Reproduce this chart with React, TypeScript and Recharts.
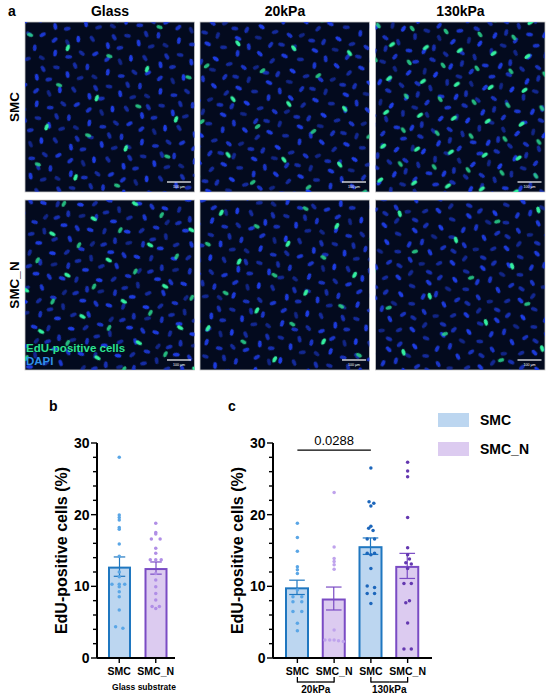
import React from 'react';
import { ComposedChart, Bar, Scatter, XAxis, YAxis, ReferenceLine, Label } from 'recharts';

const FONT = "'Liberation Sans', Arial, Helvetica, sans-serif";

// ---- panel a (micrographs) ----
const columnTitles = ['Glass', '20kPa', '130kPa'];
const rowTitles = ['SMC', 'SMC_N'];

// ---- panel b : glass substrate ----
const glassKeys = ['SMC', 'SMC_N'];
const glassMeans = [12.75, 12.55];
const glassSem = [1.35, 0.85];
const glassSmc = [28.0, 19.95, 19.6, 19.25, 18.2, 17.95, 15.9, 14.2, 12.0, 11.35, 10.3, 10.3, 10.3, 9.95, 9.25, 8.55, 6.7, 4.37, 4.14];
const glassSmcJitter = [0, 0, 0, 0, 0, 0, 0, 0, 0, 0, -0.2, 0, 0.15, 0, 0, 0, 0, -0.1, 0.1];
const glassSmcN = [18.8, 17.5, 17.3, 16.6, 16.6, 15.3, 14.6, 13.7, 13.7, 13.7, 11.8, 10.9, 9.95, 9.0, 8.1, 7.2, 7.2, 6.9];
const glassSmcNJitter = [0, 0, 0, -0.12, 0.12, 0, 0, -0.15, 0, 0.15, 0, 0, 0, 0, 0, -0.1, 0.1, 0];

// ---- panel c : 20kPa / 130kPa ----
const stiffKeys = ['SMC20', 'SMCN20', 'SMC130', 'SMCN130'];
const stiffLabels = ['SMC', 'SMC_N', 'SMC', 'SMC_N'];
const stiffGroups = ['20kPa', '130kPa'];
const stiffMeans = [9.86, 8.3, 15.6, 12.85];
const stiffSem = [1.0, 1.6, 1.15, 1.75];
const smc20 = [18.8, 16.8, 14.9, 12.75, 12.3, 11.8, 9.5, 8.55, 8.55, 7.85, 7.85, 6.5, 6.5, 4.85, 3.8];
const smc20Jitter = [0, 0, 0, 0, 0, 0, 0, -0.12, 0.12, -0.12, 0.12, -0.12, 0.12, 0, 0];
const smcN20 = [23.1, 15.5, 13.9, 13.45, 13.0, 12.4, 3.9, 2.5, 2.5, 2.5, 2.4, 2.3];
const smcN20Jitter = [0, 0, 0, 0, 0, 0, 0, -0.25, -0.12, 0, 0.12, 0.25];
const smc130 = [26.5, 21.8, 21.6, 21.2, 18.4, 18.1, 17.8, 16.6, 16.6, 14.6, 14.6, 14.4, 12.5, 10.05, 9.85, 9.0, 9.0, 7.6];
const smc130Jitter = [0, -0.05, 0.08, 0, 0, -0.06, 0.06, -0.1, 0.1, -0.1, 0.1, 0, 0, -0.1, 0.1, -0.1, 0.1, 0];
const smcN130 = [27.3, 26.1, 25.3, 19.6, 15.4, 14.4, 13.8, 13.3, 13.1, 12.5, 10.4, 10.4, 8.0, 7.7, 4.9, 1.25, 1.25];
const smcN130Jitter = [0, 0, 0, 0, 0, 0, 0.05, -0.05, 0.1, 0, -0.1, 0.1, 0.05, -0.05, 0, -0.1, 0.1];
const pValue = '0.0288';

const yTicks = [0, 2, 4, 6, 8, 10, 12, 14, 16, 18, 20, 22, 24, 26, 28, 30];

// colours
const SMC_FILL = '#bcd6f0';
const SMC_STROKE = '#1f77c0';
const SMCN_FILL = '#dccbf0';
const SMCN_STROKE = '#7a4bc4';

const glassData = glassKeys.map((name, i) => ({ name, mean: glassMeans[i], sem: glassSem[i] }));
const stiffData = stiffKeys.map((name, i) => ({ name, mean: stiffMeans[i], sem: stiffSem[i] }));

const toPoints = (vals: number[], jit: number[], idx: number) =>
  vals.map((v, i) => ({ x: idx + jit[i], y: v }));

const makeBarShape = (fills: string[], strokes: string[], capRatio: number) => (props: any) => {
  const { x, y, width, height, index, payload } = props;
  const k = payload.mean ? height / payload.mean : 0;
  const e = payload.sem * k;
  const cx = x + width / 2;
  const half = (width * capRatio) / 2;
  const stroke = strokes[index];
  return (
    <g>
      <rect x={x + 1} y={y + 1} width={width - 2} height={Math.max(height - 1, 0)} fill={fills[index]} stroke={stroke} strokeWidth={2} />
      <line x1={cx} x2={cx} y1={y - e} y2={y + e} stroke={stroke} strokeWidth={1.2} />
      <line x1={cx - half} x2={cx + half} y1={y - e} y2={y - e} stroke={stroke} strokeWidth={1.2} />
      <line x1={cx - half} x2={cx + half} y1={y + e} y2={y + e} stroke={stroke} strokeWidth={1.2} />
    </g>
  );
};

const dot = (color: string) => (p: any) => <circle cx={p.cx} cy={p.cy} r={1.75} fill={color} />;

const YTick = (props: any) => {
  const { x, y, payload } = props;
  const major = payload.value % 10 === 0;
  return (
    <g>
      <line x1={x} x2={x - (major ? 6 : 4)} y1={y} y2={y} stroke="#000" strokeWidth={1.4} />
      {major && (
        <text x={x - 7.5} y={y} dy={5} textAnchor="end" fontSize={14} fontWeight="bold" fontFamily={FONT} fill="#000">
          {payload.value}
        </text>
      )}
    </g>
  );
};

const yTitle = (vb: any, cx: number) => {
  const tx = vb.x + cx;
  const ty = vb.y + vb.height / 2;
  return (
    <text x={tx} y={ty} transform={`rotate(-90 ${tx} ${ty})`} textAnchor="middle" dominantBaseline="central"
      fontSize={16} fontWeight="bold" fontFamily={FONT} fill="#000">
      EdU-positive cells (%)
    </text>
  );
};

const GlassTick = (props: any) => {
  const { x, y, payload } = props;
  return (
    <text x={x} y={y} dy={12} textAnchor="middle" fontSize={10.5} fontWeight="bold" fontFamily={FONT} fill="#000">
      {payload.value}
    </text>
  );
};

const StiffTick = (props: any) => {
  const { x, y, payload, index } = props;
  const half = payload.offset || 18.4;
  const even = index % 2 === 0;
  const hx = even ? x + half : x - half;
  return (
    <g>
      <text x={x} y={y} dy={12} textAnchor="middle" fontSize={10.5} fontWeight="bold" fontFamily={FONT} fill="#000">
        {stiffLabels[index]}
      </text>
      <line x1={x} x2={x} y1={y + 14} y2={y + 19.5} stroke="#000" strokeWidth={1.3} />
      <line x1={x} x2={hx} y1={y + 19} y2={y + 19} stroke="#000" strokeWidth={1.3} />
      {!even && (
        <text x={x - half} y={y + 29.5} textAnchor="middle" fontSize={10} fontWeight="bold" fontFamily={FONT} fill="#000">
          {stiffGroups[(index - 1) / 2]}
        </text>
      )}
    </g>
  );
};

// decorative nuclei for micrographs
const BLUE_NUCLEI: [number, number, number, number][] = [
  [5, 6, 60, 0.9], [17, 4, -30, 0.7], [31, 10, 70, 0.95], [44, 5, 35, 0.6], [52, 18, -50, 0.85],
  [39, 22, 20, 0.6], [9, 19, -60, 0.8], [22, 17, 45, 0.5], [14, 31, 80, 0.9], [28, 30, -20, 0.75],
  [37, 36, 50, 0.65], [3, 40, 10, 0.5], [49, 33, 75, 0.8], [20, 44, -10, 0.6], [33, 47, 60, 0.9],
  [46, 46, -35, 0.55], [8, 50, 40, 0.7],
];
const panelX = [25, 200, 375.5];
const panelY = [22, 200];
const greenTile = [[58, 56, 34], [44, 52, 62]];
const panelRot = [[20, -35, 55], [-60, 30, -15]];

const Micrographs = () => (
  <svg width={550} height={380} style={{ position: 'absolute', left: 0, top: 0 }}>
    <defs>
      {rowTitles.map((_, r) =>
        columnTitles.map((__, c) => {
          const id = `${r}${c}`;
          const g = greenTile[r][c];
          return (
            <React.Fragment key={id}>
              <pattern id={`b${id}`} width={56} height={54} patternUnits="userSpaceOnUse" patternTransform={`rotate(${panelRot[r][c]})`}>
                {BLUE_NUCLEI.map(([cx, cy, a, o], k) => (
                  <ellipse key={k} cx={cx} cy={cy} rx={3.4} ry={1.9} transform={`rotate(${a} ${cx} ${cy})`} fill="#1f3ff0" opacity={o} />
                ))}
              </pattern>
              <pattern id={`g${id}`} width={g} height={g} patternUnits="userSpaceOnUse" patternTransform={`rotate(${panelRot[r][c] + 40})`}>
                <ellipse cx={g * 0.3} cy={g * 0.4} rx={3.4} ry={1.9} transform={`rotate(50 ${g * 0.3} ${g * 0.4})`} fill="#34f0a0" />
                <ellipse cx={g * 0.78} cy={g * 0.85} rx={3.2} ry={1.8} transform={`rotate(-40 ${g * 0.78} ${g * 0.85})`} fill="#2ad890" opacity={0.85} />
              </pattern>
            </React.Fragment>
          );
        })
      )}
    </defs>
    <text x={8} y={15.5} fontSize={14} fontWeight="bold" fontFamily={FONT}>a</text>
    {columnTitles.map((t, c) => (
      <text key={t} x={panelX[c] + 85} y={15.5} textAnchor="middle" fontSize={14} fontWeight="bold" fontFamily={FONT}>{t}</text>
    ))}
    {rowTitles.map((t, r) => {
      const cy = panelY[r] + 85;
      return (
        <text key={t} x={14} y={cy} transform={`rotate(-90 14 ${cy})`} textAnchor="middle" dominantBaseline="central"
          fontSize={13.5} fontWeight="bold" fontFamily={FONT}>{t}</text>
      );
    })}
    {rowTitles.map((_, r) =>
      columnTitles.map((__, c) => {
        const x = panelX[c];
        const y = panelY[r];
        const id = `${r}${c}`;
        return (
          <g key={id}>
            <rect x={x} y={y} width={169.5} height={170} fill="#030a1e" stroke="#c8c8c8" strokeWidth={0.8} />
            <rect x={x} y={y} width={169.5} height={170} fill={`url(#b${id})`} />
            <rect x={x} y={y} width={169.5} height={170} fill={`url(#g${id})`} />
            <line x1={x + 142} x2={x + 166} y1={y + 160} y2={y + 160} stroke="#fff" strokeWidth={1.2} />
            <text x={x + 154} y={y + 165.5} textAnchor="middle" fontSize={3.6} fill="#fff" fontFamily={FONT}>100 μm</text>
          </g>
        );
      })
    )}
    <text x={26} y={352} fontSize={11.5} fontWeight="bold" fontFamily={FONT} fill="#2be38f">EdU-positive cells</text>
    <text x={26} y={365} fontSize={11.5} fontWeight="bold" fontFamily={FONT} fill="#2f8fe8">DAPI</text>
  </svg>
);

const GlassChart = () => (
  <ComposedChart width={190} height={299} data={glassData} margin={{ top: 43, right: 15, bottom: 0, left: 0 }}>
    <XAxis xAxisId="cat" dataKey="name" type="category" padding={{ left: 4, right: 1 }} interval={0}
      axisLine={{ stroke: '#000', strokeWidth: 2 }} tickLine={{ stroke: '#000', strokeWidth: 1.4 }} tickSize={5} tickMargin={0}
      height={41} tick={<GlassTick />}>
      <Label content={(p: any) => (
        <text x={p.viewBox.x + p.viewBox.width / 2 + 8} y={p.viewBox.y + 31.5} textAnchor="middle" fontSize={8.5}
          fontWeight="bold" fontFamily={FONT} fill="#000">Glass substrate</text>
      )} />
    </XAxis>
    <XAxis xAxisId="num" dataKey="x" type="number" domain={[-0.5, glassKeys.length - 0.5]} padding={{ left: 4, right: 1 }}
      allowDataOverflow hide />
    <YAxis dataKey="y" type="number" domain={[0, 30]} ticks={yTicks} interval={0} width={97}
      axisLine={{ stroke: '#000', strokeWidth: 2 }} tickLine={false} tickSize={0} tickMargin={0} tick={<YTick />}>
      <Label content={(p: any) => yTitle(p.viewBox, 61)} />
    </YAxis>
    <Bar xAxisId="cat" dataKey="mean" barSize={23} isAnimationActive={false}
      shape={makeBarShape([SMC_FILL, SMCN_FILL], [SMC_STROKE, SMCN_STROKE], 0.5)} />
    <Scatter xAxisId="num" data={toPoints(glassSmc, glassSmcJitter, 0)} dataKey="y" isAnimationActive={false} shape={dot('#5aa6e6')} />
    <Scatter xAxisId="num" data={toPoints(glassSmcN, glassSmcNJitter, 1)} dataKey="y" isAnimationActive={false} shape={dot('#b08ee6')} />
  </ComposedChart>
);

const StiffChart = () => (
  <ComposedChart width={250} height={299} data={stiffData} margin={{ top: 43, right: 8, bottom: 0, left: 0 }}>
    <XAxis xAxisId="cat" dataKey="name" type="category" padding={{ left: 6, right: 6 }} interval={0}
      axisLine={{ stroke: '#000', strokeWidth: 2 }} tickLine={{ stroke: '#000', strokeWidth: 1.4 }} tickSize={5} tickMargin={0}
      height={41} tick={<StiffTick />} />
    <XAxis xAxisId="num" dataKey="x" type="number" domain={[-0.5, stiffKeys.length - 0.5]} padding={{ left: 6, right: 6 }}
      allowDataOverflow hide />
    <YAxis dataKey="y" type="number" domain={[0, 30]} ticks={yTicks} interval={0} width={83}
      axisLine={{ stroke: '#000', strokeWidth: 2 }} tickLine={false} tickSize={0} tickMargin={0} tick={<YTick />}>
      <Label content={(p: any) => yTitle(p.viewBox, 47)} />
    </YAxis>
    <Bar xAxisId="cat" dataKey="mean" barSize={24} isAnimationActive={false}
      shape={makeBarShape([SMC_FILL, SMCN_FILL, SMC_FILL, SMCN_FILL], [SMC_STROKE, SMCN_STROKE, SMC_STROKE, SMCN_STROKE], 0.65)} />
    <Scatter xAxisId="num" data={toPoints(smc20, smc20Jitter, 0)} dataKey="y" isAnimationActive={false} shape={dot('#5aa6e6')} />
    <Scatter xAxisId="num" data={toPoints(smcN20, smcN20Jitter, 1)} dataKey="y" isAnimationActive={false} shape={dot('#bfa3ec')} />
    <Scatter xAxisId="num" data={toPoints(smc130, smc130Jitter, 2)} dataKey="y" isAnimationActive={false} shape={dot('#1c66bb')} />
    <Scatter xAxisId="num" data={toPoints(smcN130, smcN130Jitter, 3)} dataKey="y" isAnimationActive={false} shape={dot('#6438b0')} />
    <ReferenceLine xAxisId="cat" segment={[{ x: 'SMC20', y: 29 }, { x: 'SMC130', y: 29 }]} stroke="#000" strokeWidth={1.3}
      label={{ value: pValue, position: 'top', fontSize: 13, fill: '#000', fontFamily: FONT, offset: 5 }} />
  </ComposedChart>
);

const legendItems = [
  { label: 'SMC', color: SMC_FILL, top: 413 },
  { label: 'SMC_N', color: SMCN_FILL, top: 442 },
];

export default function App() {
  return (
    <div style={{ position: 'relative', width: 550, height: 699, background: '#fff', fontFamily: FONT, overflow: 'hidden' }}>
      <style>{'body{margin:0}'}</style>
      <Micrographs />
      <div style={{ position: 'absolute', left: 49, top: 398, fontSize: 14, fontWeight: 'bold' }}>b</div>
      <div style={{ position: 'absolute', left: 228, top: 398, fontSize: 14, fontWeight: 'bold' }}>c</div>
      <div style={{ position: 'absolute', left: 0, top: 400 }}>
        <GlassChart />
      </div>
      <div style={{ position: 'absolute', left: 190, top: 400 }}>
        <StiffChart />
      </div>
      {legendItems.map((it) => (
        <div key={it.label} style={{ position: 'absolute', left: 438, top: it.top, display: 'flex', alignItems: 'center' }}>
          <div style={{ width: 31, height: 14, background: it.color }} />
          <span style={{ marginLeft: 11, fontSize: 14, fontWeight: 'bold', lineHeight: '14px' }}>{it.label}</span>
        </div>
      ))}
    </div>
  );
}
